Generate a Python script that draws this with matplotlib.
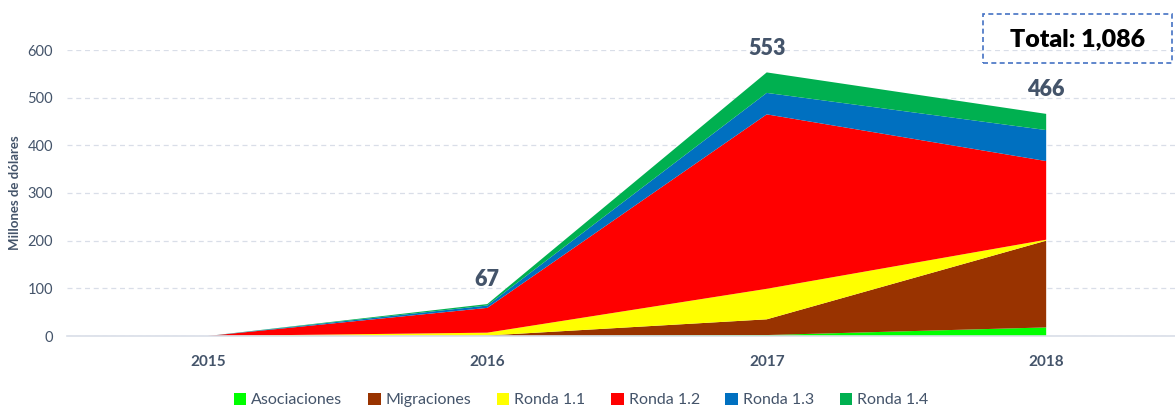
import matplotlib
matplotlib.use("Agg")
import matplotlib.pyplot as plt
from matplotlib.patches import Patch, FancyBboxPatch
import numpy as np

plt.rcParams['font.family'] = ['Lato', 'DejaVu Sans']

years = [2015, 2016, 2017, 2018]
series_names = ["Asociaciones", "Migraciones", "Ronda 1.1", "Ronda 1.2", "Ronda 1.3", "Ronda 1.4"]
asociaciones = [0, 0, 2, 18]
migraciones = [0, 1, 33, 182]
ronda_11 = [0, 6, 64, 2]
ronda_12 = [0, 52, 366, 165]
ronda_13 = [0, 5, 45, 65]
ronda_14 = [0, 3, 43, 34]
totals = [None, 67, 553, 466]
total_label = "Total: 1,086"
colors = ["#00FF00", "#993300", "#FFFF00", "#FF0000", "#0070C0", "#00B050"]

W, H = 1175, 408
fig = plt.figure(figsize=(W / 100, H / 100), dpi=100)
ax = fig.add_axes([67 / W, 1 - 336 / H, (W - 67) / W, (336 - 50) / H])

data = [asociaciones, migraciones, ronda_11, ronda_12, ronda_13, ronda_14]
ax.stackplot(years, *data, colors=colors, labels=series_names, linewidth=0)

ax.set_xlim(2014.496, 2018.461)
ax.set_ylim(0, 600)
ax.set_yticks(range(0, 601, 100))
ax.set_xticks(years)
ax.set_xticklabels([str(y) for y in years], fontsize=11, fontweight='bold', color='#44546A')
ax.tick_params(axis='x', length=0, pad=14)
ax.tick_params(axis='y', length=0, pad=10, labelsize=10.5, labelcolor='#44546A')
ax.grid(axis='y', color='#D9DEE8', linestyle=(0, (4, 3)), linewidth=0.9)
ax.set_axisbelow(True)
for s in ['top', 'right', 'left']:
    ax.spines[s].set_visible(False)
ax.spines['bottom'].set_color('#D9DEE8')
ax.spines['bottom'].set_linewidth(1.2)
ax.set_ylabel("Millones de dólares", fontsize=9.5, fontweight='bold', color='#44546A', labelpad=5)

for x, t in zip(years, totals):
    if t is None:
        continue
    ax.annotate(str(t), xy=(x, t), xytext=(0, 10), textcoords='offset points',
                ha='center', va='bottom', fontsize=15.5, fontweight='heavy',
                color='#44546A', annotation_clip=False)

fig.text(1078 / W, 1 - 39 / H, total_label, ha='center', va='center', fontsize=18,
         fontweight='heavy', color='black')
box = FancyBboxPatch((983 / W, 1 - 63 / H), (1172 - 983) / W, (63 - 14) / H,
                     boxstyle='square,pad=0', transform=fig.transFigure, fill=False,
                     edgecolor='#4472C4', linestyle=(0, (3, 2)), linewidth=1.2)
fig.patches.append(box)

handles = [Patch(facecolor=c, edgecolor='none') for c in colors]
fig.legend(handles, series_names, loc='center', bbox_to_anchor=(581 / W, 1 - 400 / H),
           ncol=6, frameon=False, fontsize=11.5, handlelength=0.8, handleheight=0.8,
           handletextpad=0.3, columnspacing=1.6, labelcolor='#44546A')

fig.savefig("out.png", dpi=100)
